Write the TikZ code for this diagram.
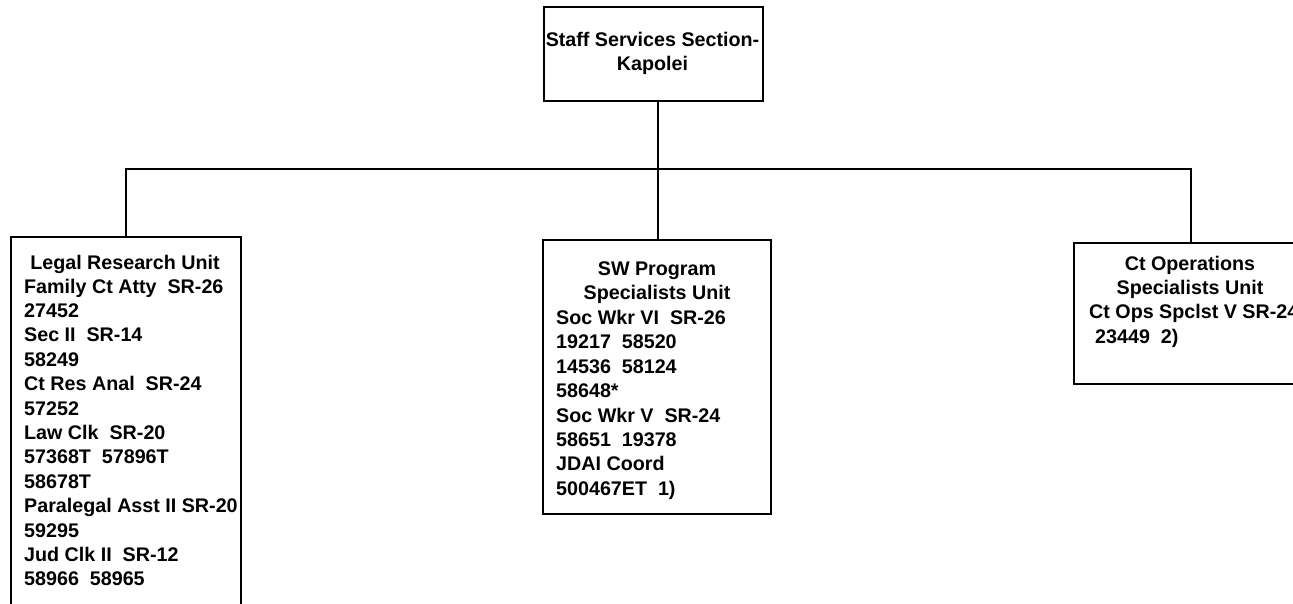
\documentclass[tikz,border=0pt]{standalone}
\usepackage{fontspec}
\setmainfont{Liberation Sans}
\tikzstyle{unit}     = [rectangle, draw, line width=2pt, inner sep=0pt, anchor=north west]
\tikzstyle{link}     = [line width=2pt]
\tikzstyle{unithead} = [inner sep=0pt, anchor=north, font=\fontsize{19.7}{24.4}\selectfont\bfseries]
\tikzstyle{unitbody} = [unithead, anchor=north west, align=left]
\tikzset{every node/.style={align=center}}

\begin{document}
\begin{tikzpicture}[x=1pt, y=-1pt]
    \clip (0,0) rectangle (1293,603);

    % boxes
    \node (top)   at (543,6)    [unit, minimum width=219pt, minimum height=94pt]  {};
    \node (legal) at (10,236)   [unit, minimum width=230pt, minimum height=380pt] {};
    \node (sw)    at (542,239)  [unit, minimum width=228pt, minimum height=274pt] {};
    \node (ctops) at (1073,242) [unit, minimum width=234pt, minimum height=141pt] {};

    % texts
    \node (tophead)   at (652.5,28.9) [unithead] {\strut Staff Services Section-\\Kapolei};
    \node (legalhead) at (125,251.9)  [unithead] {\strut Legal Research Unit};
    \node (legalbody) at (24,275.9)   [unitbody]
          {\strut Family Ct Atty~~SR-26\\27452\\Sec II~~SR-14\\58249\\Ct Res Anal~~SR-24\\57252\\
           Law Clk~~SR-20\\57368T~~57896T\\58678T\\Paralegal Asst II SR-20\\59295\\
           Jud Clk II~~SR-12\\58966~~58965};
    \node (swhead)    at (657,258.2)  [unithead] {\strut SW Program\\Specialists Unit};
    \node (swbody)    at (556,307.2)  [unitbody]
          {\strut Soc Wkr VI~~SR-26\\19217~~58520\\14536~~58124\\58648*\\Soc Wkr V~~SR-24\\
           58651~~19378\\JDAI Coord\\500467ET~~1)};
    \node (ctopshead) at (1190,253.2) [unithead] {\strut Ct Operations\\Specialists Unit};
    \node (ctopsbody) at (1089,301.5) [unitbody] {\strut Ct Ops Spclst V SR-24\\\hspace{6pt}23449~~2)};

    % connectors
    \coordinate (bus) at (658,169);
    \draw [link] (top.south -| bus) -- (sw.north -| bus);
    \draw [link] (legal.north) |- (bus) -| (ctops.north);
\end{tikzpicture}
\end{document}
